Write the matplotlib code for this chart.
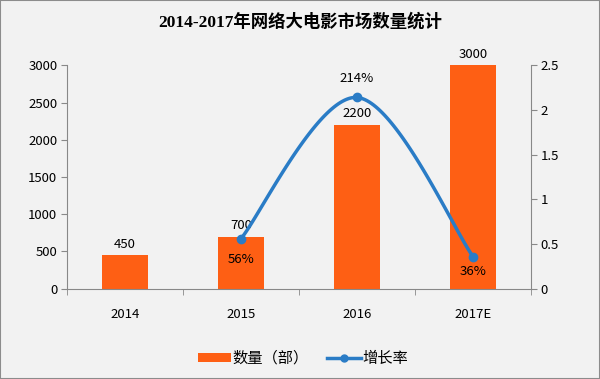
import matplotlib
matplotlib.use("Agg")
import matplotlib.pyplot as plt
import numpy as np
from matplotlib.lines import Line2D
from matplotlib.patches import Patch, Rectangle

plt.rcParams['font.family'] = ['Noto Sans CJK SC', 'DejaVu Sans']

categories = ["2014", "2015", "2016", "2017E"]
counts = [450, 700, 2200, 3000]
growth_cats = ["2015", "2016", "2017E"]
growth = [0.56, 2.14, 0.36]
growth_labels = ["56%", "214%", "36%"]

bar_color = "#fe5f14"
line_color = "#2a7cc6"
bg = "#f2f2f2"

fig = plt.figure(figsize=(6, 3.79), dpi=100, facecolor=bg)
fig.patches.append(Rectangle((0, 0), 1, 1, transform=fig.transFigure, fill=False,
                             edgecolor="#8c8c8c", linewidth=1.5))
ax = fig.add_axes([0.1117, 0.2383, 0.7733, 0.5894])
ax.set_facecolor("none")
x = np.arange(len(categories))
ax.bar(x, counts, width=0.4, color=bar_color, zorder=2)
ax.set_xlim(-0.5, len(categories) - 0.5)
ax.set_ylim(0, 3000)
ax.set_yticks(np.arange(0, 3001, 500))
ax.set_xticks(x)
ax.set_xticklabels(categories)
ax.set_xticks(np.arange(-0.5, len(categories), 1), minor=True)
ax.tick_params(axis='x', which='major', length=0, pad=14, labelsize=9.5)
ax.tick_params(axis='x', which='minor', length=4, color="#888888")
ax.tick_params(axis='y', length=4, color="#888888", labelsize=9.5, pad=3)
for s in ['top', 'right']:
    ax.spines[s].set_visible(False)
for s in ['left', 'bottom']:
    ax.spines[s].set_color("#888888")
for xi, v in zip(x, counts):
    ax.text(xi, v + 60, str(v), ha='center', va='bottom', fontsize=9.5)

ax2 = ax.twinx()
ax2.set_ylim(0, 2.5)
ax2.set_yticks([0, 0.5, 1, 1.5, 2, 2.5])
ax2.set_yticklabels(["0", "0.5", "1", "1.5", "2", "2.5"])
ax2.tick_params(axis='y', length=4, color="#888888", labelsize=9.5, pad=3)
for s in ['top', 'left', 'bottom']:
    ax2.spines[s].set_visible(False)
ax2.spines['right'].set_color("#888888")

gx = np.array([categories.index(c) for c in growth_cats], dtype=float)
gy = np.array(growth)
# Catmull-Rom style smooth curve (display smoothing)
px, py = [], []
n = len(gx)
for i in range(n - 1):
    p0 = (gx[max(i - 1, 0)], gy[max(i - 1, 0)])
    p1 = (gx[i], gy[i])
    p2 = (gx[i + 1], gy[i + 1])
    p3 = (gx[min(i + 2, n - 1)], gy[min(i + 2, n - 1)])
    c1 = (p1[0] + (p2[0] - p0[0]) / 6, p1[1] + (p2[1] - p0[1]) / 6)
    c2 = (p2[0] - (p3[0] - p1[0]) / 6, p2[1] - (p3[1] - p1[1]) / 6)
    t = np.linspace(0, 1, 60)
    bx = (1 - t) ** 3 * p1[0] + 3 * (1 - t) ** 2 * t * c1[0] + 3 * (1 - t) * t ** 2 * c2[0] + t ** 3 * p2[0]
    by = (1 - t) ** 3 * p1[1] + 3 * (1 - t) ** 2 * t * c1[1] + 3 * (1 - t) * t ** 2 * c2[1] + t ** 3 * p2[1]
    px.extend(bx); py.extend(by)
ax2.plot(px, py, color=line_color, linewidth=2.5, zorder=3)
ax2.plot(gx, gy, 'o', color=line_color, markersize=6, zorder=4)
offs = [-0.16, 0.14, -0.1]
for xi, v, lab, o in zip(gx, gy, growth_labels, offs):
    ax2.text(xi, v + o, lab, ha='center', va='top' if o < 0 else 'bottom', fontsize=9.5)

fig.text(0.5, 0.942, "2014-2017年网络大电影市场数量统计", ha='center', va='center',
         fontsize=12.5, fontweight='bold',
         family=['Liberation Serif', 'Noto Sans CJK SC'])

handles = [Patch(facecolor=bar_color, edgecolor='none'),
           Line2D([0], [0], color=line_color, linewidth=2.5, marker='o', markersize=5)]
fig.legend(handles, ["数量（部）", "增长率"], loc='center', bbox_to_anchor=(0.505, 0.055),
           ncol=2, frameon=False, fontsize=11, handlelength=2.2, handleheight=0.5,
           handletextpad=0.1, columnspacing=1.2)

fig.savefig("out.png", dpi=100, facecolor=bg)
